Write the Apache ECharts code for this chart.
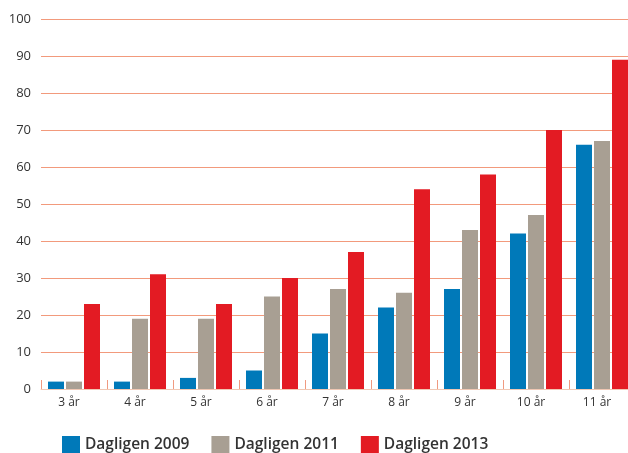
<!DOCTYPE html>
<html>
<head>
    <meta charset="utf-8" />
    <title>Dagligen</title>
    <style>
        html, body { margin: 0; padding: 0; background: #fff; overflow: hidden; }
        #chart { width: 640px; height: 453px; }
    </style>
</head>
<body>
    <div id="chart"></div>
    <script type="text/javascript" src="https://cdn.jsdelivr.net/npm/echarts@6/dist/echarts.min.js"></script>
    <script type="text/javascript">
        // kategorier (ålder)
        const categories = ["3 år", "4 år", "5 år", "6 år", "7 år", "8 år", "9 år", "10 år", "11 år"];
        // serievärden
        const dagligen2009 = [2, 2, 3, 5, 15, 22, 27, 42, 66];
        const dagligen2011 = [2, 19, 19, 25, 27, 26, 43, 47, 67];
        const dagligen2013 = [23, 31, 23, 30, 37, 54, 58, 70, 89];

        const textFont = '"Open Sans", "Noto Sans", sans-serif';

        // diagrammet är bredare än fönstret, högerkanten klipps som i originalet
        const chart = echarts.init(document.getElementById("chart"));
        const option = {
            backgroundColor: '#fff',
            animation: false,
            color: ['#0079b9', '#a89f93', '#e31b23'],
            grid: {
                left: 41,
                top: 19,
                width: 594,
                height: 370,
                containLabel: false
            },
            legend: {
                top: 431,
                left: 57,
                itemWidth: 18,
                itemHeight: 18,
                itemGap: 22,
                icon: 'rect',
                textStyle: {
                    fontFamily: textFont,
                    fontSize: 15.5,
                    fontWeight: 600,
                    color: '#333'
                },
                data: ['Dagligen 2009', 'Dagligen 2011', 'Dagligen 2013']
            },
            xAxis: {
                type: 'category',
                data: categories,
                axisLine: { lineStyle: { color: '#f0c8b4', width: 1 } },
                axisTick: {
                    show: true,
                    inside: true,
                    length: 9,
                    lineStyle: { color: '#f09a80' }
                },
                axisLabel: {
                    fontFamily: textFont,
                    fontSize: 12,
                    color: '#333',
                    margin: 8,
                    padding: [0, 10, 0, 0]
                }
            },
            yAxis: {
                type: 'value',
                min: 0,
                max: 100,
                interval: 10,
                axisLine: { show: false },
                axisTick: { show: false },
                axisLabel: {
                    fontFamily: textFont,
                    fontSize: 13,
                    color: '#333',
                    margin: 10
                },
                splitLine: {
                    lineStyle: { color: '#f29a7c', width: 1 }
                }
            },
            series: [
                {
                    name: 'Dagligen 2009',
                    type: 'bar',
                    data: dagligen2009,
                    barWidth: 16,
                    barGap: '12.5%'
                },
                {
                    name: 'Dagligen 2011',
                    type: 'bar',
                    data: dagligen2011,
                    barWidth: 16,
                    barGap: '12.5%'
                },
                {
                    name: 'Dagligen 2013',
                    type: 'bar',
                    data: dagligen2013,
                    barWidth: 16,
                    barGap: '12.5%'
                }
            ]
        };
        chart.setOption(option);
    </script>
</body>
</html>
